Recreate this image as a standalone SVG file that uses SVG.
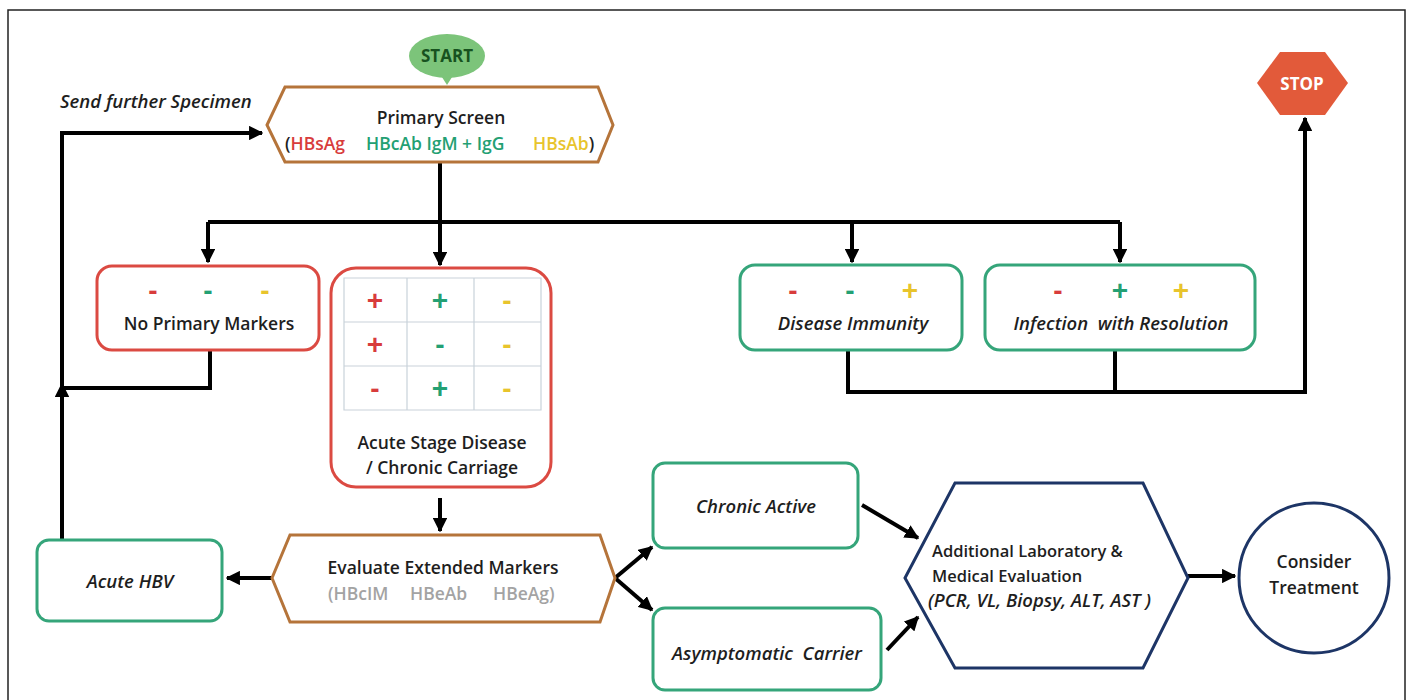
<svg xmlns="http://www.w3.org/2000/svg" width="1413" height="700" viewBox="0 0 1413 700">
<defs>
<marker id="ah" viewBox="0 0 10 10" refX="9" refY="5" markerWidth="3.6" markerHeight="3.6" orient="auto" markerUnits="strokeWidth">
<path d="M0,0 L10,5 L0,10 z" fill="#000"/>
</marker>
</defs>
<style>
.t{font-family:"Open Sans","Liberation Sans",sans-serif;font-size:17.5px;font-weight:600;fill:#1e1e1e;text-anchor:middle;white-space:pre}
.i{font-style:italic;font-size:18.5px}
.s{text-anchor:start}
.sg{font-family:"Liberation Sans",sans-serif;font-size:28px;font-weight:bold;text-anchor:middle}
.r{fill:#d83c3c}.g{fill:#23a073}.y{fill:#e8c42c}.gr{fill:#a3a3a3}
.red{fill:#fff;stroke:#db4a42;stroke-width:3}
.grn{fill:#fff;stroke:#35a57a;stroke-width:3}
.brn{fill:#fff;stroke:#b5743a;stroke-width:3}
.nav{fill:#fff;stroke:#1d3566;stroke-width:3}
.c{fill:none;stroke:#000;stroke-width:4}
.grid{stroke:#c9d2da;stroke-width:1.2;fill:none}
</style>
<rect x="8" y="10" width="1397" height="700" fill="#fff" stroke="#222" stroke-width="1.5"/>

<g id="connectors">
<path class="c" d="M440,162 V222"/>
<path class="c" d="M208,222 H1120"/>
<path class="c" d="M208,222 V262" marker-end="url(#ah)"/>
<path class="c" d="M440,222 V265" marker-end="url(#ah)"/>
<path class="c" d="M852,222 V262" marker-end="url(#ah)"/>
<path class="c" d="M1120,222 V262" marker-end="url(#ah)"/>
<path class="c" d="M848,350 V392 H1305 V118" marker-end="url(#ah)"/>
<path class="c" d="M1115,350 V392"/>
<path class="c" d="M210,350 V388 H62"/>
<path class="c" d="M62,540 V384" marker-end="url(#ah)"/>
<path class="c" d="M62,390 V133 H262" marker-end="url(#ah)"/>
<path class="c" d="M440,498 V531" marker-end="url(#ah)"/>
<path class="c" d="M272,578 H227" marker-end="url(#ah)"/>
<path class="c" d="M615,578 L652,547" marker-end="url(#ah)"/>
<path class="c" d="M615,578 L652,610" marker-end="url(#ah)"/>
<path class="c" d="M862,505 L918,538" marker-end="url(#ah)"/>
<path class="c" d="M887,650 L918,617" marker-end="url(#ah)"/>
<path class="c" d="M1188,576 H1235" marker-end="url(#ah)"/>
</g>

<g id="start">
<ellipse cx="447" cy="56" rx="38" ry="22" fill="#7cc47a"/>
<path d="M440,74 L454,74 L447,85 z" fill="#7cc47a"/>
<text x="447" y="62" class="t" style="font-weight:bold;font-size:17px;fill:#17521f">START</text>
</g>

<g id="send-label">
<text x="60" y="108" class="t i s">Send further Specimen</text>
</g>

<g id="primary-screen">
<polygon class="brn" points="267,125 285,87 598,87 613,125 598,162 285,162"/>
<text x="441" y="124" class="t">Primary Screen</text>
<text y="150" class="t s"><tspan x="285">(</tspan><tspan class="r">HBsAg</tspan><tspan class="g" x="366">HBcAb IgM + IgG</tspan><tspan class="y" x="533">HBsAb</tspan><tspan>)</tspan></text>
</g>

<g id="stop">
<polygon points="1280,52 1325,52 1348,83 1325,115 1280,115 1257,83" fill="#e25a3a"/>
<text x="1302" y="90" class="t" style="font-size:17px;font-weight:bold;fill:#fff">STOP</text>
</g>

<g id="no-primary">
<rect x="97" y="266" width="222" height="84" rx="15" class="red"/>
<text x="153" y="300" class="sg r">-</text>
<text x="208" y="300" class="sg g">-</text>
<text x="265" y="300" class="sg y">-</text>
<text x="209" y="330" class="t">No Primary Markers</text>
</g>

<g id="acute-stage">
<rect x="331" y="268" width="220" height="219" rx="25" class="red"/>
<path class="grid" d="M344,278 H541 V410 H344 z M407,278 V410 M474,278 V410 M344,322 H541 M344,366 H541"/>
<text x="375" y="310" class="sg r">+</text>
<text x="440" y="310" class="sg g">+</text>
<text x="507" y="310" class="sg y">-</text>
<text x="375" y="354" class="sg r">+</text>
<text x="440" y="354" class="sg g">-</text>
<text x="507" y="354" class="sg y">-</text>
<text x="375" y="398" class="sg r">-</text>
<text x="440" y="398" class="sg g">+</text>
<text x="507" y="398" class="sg y">-</text>
<text x="442" y="449" class="t">Acute Stage Disease</text>
<text x="442" y="474" class="t">/ Chronic Carriage</text>
</g>

<g id="disease-immunity">
<rect x="740" y="265" width="222" height="85" rx="15" class="grn"/>
<text x="793" y="300" class="sg r">-</text>
<text x="850" y="300" class="sg g">-</text>
<text x="910" y="300" class="sg y">+</text>
<text x="853" y="330" class="t i">Disease Immunity</text>
</g>

<g id="infection-resolution">
<rect x="985" y="265" width="270" height="85" rx="15" class="grn"/>
<text x="1058" y="300" class="sg r">-</text>
<text x="1120" y="300" class="sg g">+</text>
<text x="1181" y="300" class="sg y">+</text>
<text x="1121" y="330" class="t i">Infection  with Resolution</text>
</g>

<g id="evaluate-extended">
<polygon class="brn" points="272,578 290,535 600,535 615,578 600,622 290,622"/>
<text x="443" y="574" class="t">Evaluate Extended Markers</text>
<text y="600" class="t s gr"><tspan x="328">(HBcIM</tspan><tspan x="410">HBeAb</tspan><tspan x="493">HBeAg)</tspan></text>
</g>

<g id="acute-hbv">
<rect x="37" y="540" width="185" height="81" rx="12" class="grn"/>
<text x="130" y="588" class="t i">Acute HBV</text>
</g>

<g id="chronic-active">
<rect x="653" y="463" width="205" height="85" rx="12" class="grn"/>
<text x="756" y="513" class="t i">Chronic Active</text>
</g>

<g id="asymptomatic">
<rect x="653" y="608" width="228" height="82" rx="12" class="grn"/>
<text x="767" y="660" class="t i">Asymptomatic  Carrier</text>
</g>

<g id="additional-eval">
<polygon class="nav" points="905,578 955,483 1143,483 1188,578 1143,668 955,668"/>
<text x="932" y="557" class="t s" style="font-size:16.5px">Additional Laboratory &amp;</text>
<text x="932" y="582" class="t s" style="font-size:16.5px">Medical Evaluation</text>
<text x="928" y="607" class="t i s" style="font-size:18.5px">(PCR, VL, Biopsy, ALT, AST )</text>
</g>

<g id="consider-treatment">
<circle cx="1314" cy="578" r="75" class="nav"/>
<text x="1314" y="568" class="t">Consider</text>
<text x="1314" y="594" class="t">Treatment</text>
</g>
</svg>
